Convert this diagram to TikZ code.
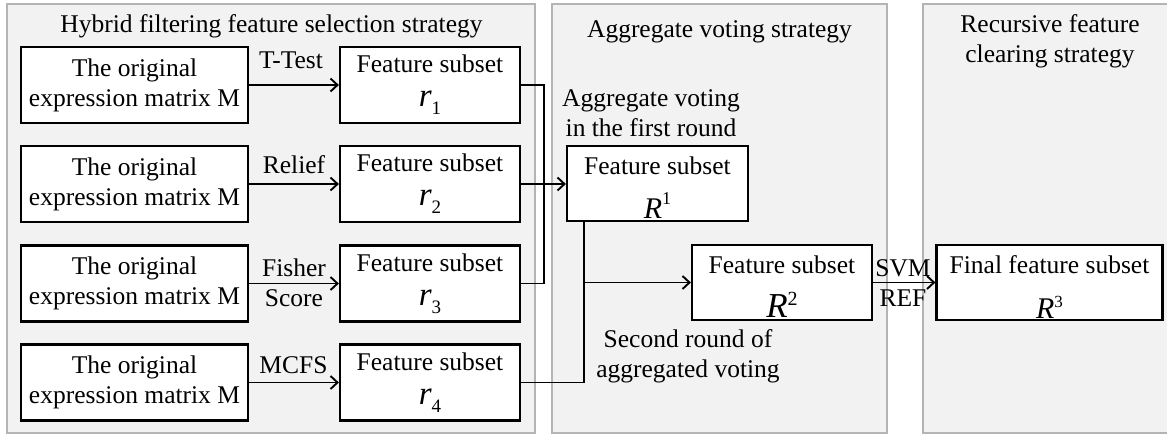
\documentclass[tikz,border=0pt]{standalone}
\usepackage{fontspec}
\setmainfont{Liberation Serif}[ItalicFont={Liberation Serif Italic}]
\newfontfamily\symit{Liberation Serif Italic}
\usetikzlibrary{arrows.meta,calc}
\definecolor{panelfill}{HTML}{F2F2F2}
\definecolor{panelline}{HTML}{B4B4B4}
\newcommand{\txtfont}{\fontsize{25.5}{30}\selectfont}
% italic r with a lowered index
\newcommand{\subr}[1]{{\symit\fontsize{33}{30}\selectfont r}\raisebox{-8pt}{\fontsize{19}{19}\selectfont #1}}
% italic R with a raised index: R size, raise, index size, index
\newcommand{\supR}[4]{{\symit\fontsize{#1}{30}\selectfont R}\raisebox{#2}{\fontsize{#3}{19}\selectfont #4}}
\begin{document}
\begin{tikzpicture}[x=1pt,y=-1pt,
  panel/.style={draw=panelline,fill=panelfill,line width=1.4pt},
  box/.style={draw,fill=white,line width=2.2pt,inner sep=0pt,align=center,font=\txtfont},
  flow/.style={line width=1.9pt},
  arr/.style={flow,-{Straight Barb[length=7pt,width=13pt]}},
  lbl/.style={inner sep=0pt,align=center,font=\txtfont}]
\useasboundingbox (0,0) rectangle (1167,434);

% background panels of the three stages
\path[panel] (7,4) rectangle (535,433);
\path[panel] (552,4) rectangle (887,433);
\path[panel] (923,4) rectangle (1185,433);

\node[lbl,anchor=base] (t1) at (271.5,32) {Hybrid filtering feature selection strategy};
\node[lbl,anchor=base] (t2) at (719.5,37) {Aggregate voting strategy};
\node[lbl] (t3) at (1050,41) {Recursive feature\\clearing strategy};

% input matrices
\foreach \i/\y in {1/85,2/184,3/283.5,4/382.5}{
  \node[box,minimum width=227pt,minimum height=76pt] (L\i) at (134.5,\y)
    {The original\\expression matrix M};
}
% filtered subsets
\node[box,minimum width=180pt,minimum height=76pt] (r1) at (430,85)    {Feature subset\\[4pt]\subr{1}};
\node[box,minimum width=180pt,minimum height=76pt] (r2) at (430,184)   {Feature subset\\[4pt]\subr{2}};
\node[box,minimum width=180pt,minimum height=76pt] (r3) at (430,283.5) {Feature subset\\[4pt]\subr{3}};
\node[box,minimum width=180pt,minimum height=76pt] (r4) at (430,382.5) {Feature subset\\[4pt]\subr{4}};

% voting results and final subset
\node[box,minimum width=181pt,minimum height=75pt] (R1) at (657.5,183.5)
  {\rule{0pt}{25pt}Feature subset\\[14pt]\supR{30}{14pt}{18}{1}};
\node[box,minimum width=180pt,minimum height=75pt] (R2) at (782,282.5)
  {\rule{0pt}{25pt}Feature subset\\[14pt]\supR{35}{12pt}{20}{2}};
\node[box,minimum width=226pt,minimum height=75pt] (R3) at (1049.5,282.5)
  {\rule{0pt}{26pt}Final feature subset\\[15pt]\supR{30}{11pt}{17}{3}};

% filters
\foreach \i in {1,...,4}{ \draw[arr] (L\i.east) -- (r\i.west); }
\node[lbl,anchor=base] (f1) at (291,68) {T-Test};
\node[lbl,anchor=base] (f2) at (294,173) {Relief};
\node[lbl] (f3) at (294,282.3) {Fisher\\Score};
\node[lbl,anchor=base] (f4) at (293.5,373) {MCFS};

% first round of voting
\coordinate (jx) at (544,0);
\draw[flow] (r1.east) -- (r1.east -| jx) -- (r3.east -| jx) -- (r3.east);
\draw[arr] (r2.east) -- (r2.east -| R1.west);
\node[lbl] (v1) at (651,113.3) {Aggregate voting\\in the first round};

% second round of voting
\coordinate (drop) at ($(R1.south west)+(18,0)$);
\draw[flow] (drop) -- (drop |- r4.east) -- (r4.east);
\draw[arr] (drop |- R2.west) -- (R2.west);
\node[lbl] (v2) at (688,356) {Second round of\\aggregated voting};

% recursive elimination
\draw[arr] (R2.east) -- (R3.west);
\node[lbl] (svm) at (903,282.8) {SVM\\REF};
\end{tikzpicture}
\end{document}
